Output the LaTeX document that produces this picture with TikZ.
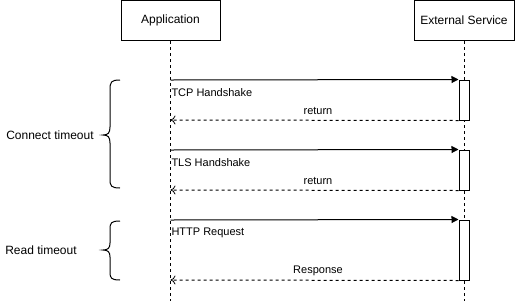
\documentclass[tikz,border=0pt]{standalone}
\usepackage{fontspec}
\setmainfont{Liberation Sans}
\usetikzlibrary{arrows.meta}
\begin{document}
\begin{tikzpicture}[x=1pt,y=-1pt,line width=1pt,
  actor/.style={draw,fill=white,minimum width=99pt,minimum height=40pt,inner sep=0pt,font=\fontsize{12}{14}\selectfont},
  life/.style={draw,dash pattern=on 3pt off 3pt,line width=0.8pt},
  act/.style={draw,fill=white,minimum width=10pt,inner sep=0pt},
  req/.style={draw,-{Triangle[length=7pt,width=7pt]}},
  ret/.style={draw,dash pattern=on 3pt off 3pt,-{To[length=5pt,width=9pt,line width=0.8pt]}},
  msg/.style={font=\fontsize{11}{13}\selectfont,inner sep=0pt},
  side/.style={font=\fontsize{12}{14}\selectfont,inner sep=0pt},
  brace/.style={draw,line width=1pt}]
\useasboundingbox (0,0) rectangle (515,301);
\node[actor] (app) at (170.5,20.5) {Application};
\node[actor,minimum width=100pt] (ext) at (464,20.5) {External Service};
\coordinate (append) at (170.5,301);
\coordinate (extend) at (464,301);
\draw[life] (app.south) -- (append);
\draw[life] (ext.south) -- (extend);
% activations
\node[act,minimum height=40pt] (act1) at (464,100) {};
\node[act,minimum height=40pt] (act2) at (464,170) {};
\node[act,minimum height=60pt] (act3) at (464,250) {};
% app lifeline points
\coordinate (a1) at (170.5,80);
\coordinate (b1) at (170.5,120);
\coordinate (a2) at (170.5,150);
\coordinate (b2) at (170.5,190);
\coordinate (a3) at (170.5,220);
\coordinate (b3) at (170.5,280);
\draw[req] (a1) -- (act1.north west);
\draw[ret] (act1.south west) -- (b1);
\draw[req] (a2) -- (act2.north west);
\draw[ret] (act2.south west) -- (b2);
\draw[req] (a3) -- (act3.north west);
\draw[ret] (act3.south west) -- (b3);
\node[msg,anchor=west] (m1) at (171,93) {TCP Handshake};
\node[msg] (r1) at (318,111) {return};
\node[msg,anchor=west] (m2) at (171,163) {TLS Handshake};
\node[msg] (r2) at (318,181) {return};
\node[msg,anchor=west] (m3) at (171,233) {HTTP Request};
\node[msg] (r3) at (318,271) {Response};
% braces
\draw[brace] (120,80) .. controls (111,80) and (110,82) .. (110,90) -- (110,127)
  .. controls (110,133) and (108,135) .. (103,135)
  .. controls (108,135) and (110,137) .. (110,143) -- (110,179)
  .. controls (110,186) and (111,188) .. (120,188);
\draw[brace] (120,221) .. controls (111,221) and (110,223) .. (110,229) -- (110,243)
  .. controls (110,248) and (108,250) .. (103,250)
  .. controls (108,250) and (110,252) .. (110,257) -- (110,272)
  .. controls (110,278) and (111,280) .. (120,280);
\node[side] (ct) at (50,135) {Connect timeout};
\node[side] (rt) at (41,250) {Read timeout};
\end{tikzpicture}
\end{document}
